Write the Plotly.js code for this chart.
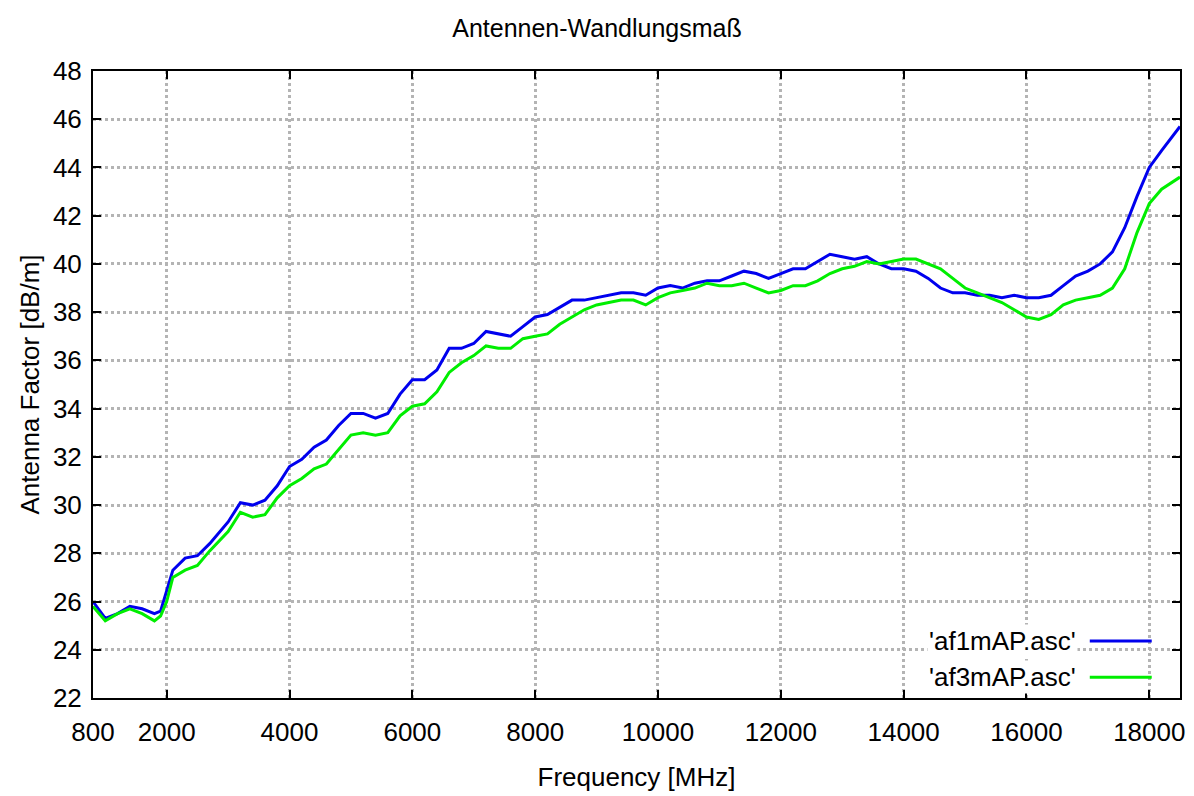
<!DOCTYPE html>
<html>
<head>
<meta charset="utf-8">
<script src="https://cdn.plot.ly/plotly-3.0.1.min.js"></script>
<style>body{margin:0;background:#fff}#chart{width:1194px;height:796px}</style>
</head>
<body>
<div id="chart"></div>
<script>
var freq = [800, 1000, 1200, 1400, 1600, 1800, 1900, 2000, 2100, 2300, 2500, 2700, 3000, 3200, 3400, 3600, 3800, 4000, 4200, 4400, 4600, 4800, 5000, 5200, 5400, 5600, 5800, 6000, 6200, 6400, 6600, 6800, 7000, 7200, 7400, 7600, 7800, 8000, 8200, 8400, 8600, 8800, 9000, 9200, 9400, 9600, 9800, 10000, 10200, 10400, 10600, 10800, 11000, 11200, 11400, 11600, 11800, 12000, 12200, 12400, 12600, 12800, 13000, 13200, 13400, 13600, 13800, 14000, 14200, 14400, 14600, 14800, 15000, 15200, 15400, 15600, 15800, 16000, 16200, 16400, 16600, 16800, 17000, 17200, 17400, 17600, 17800, 18000, 18200, 18500];

var af1 = [26.0, 25.3, 25.5, 25.8, 25.7, 25.5, 25.6, 26.5, 27.3, 27.8, 27.9, 28.4, 29.3, 30.1, 30.0, 30.2, 30.8, 31.6, 31.9, 32.4, 32.7, 33.3, 33.8, 33.8, 33.6, 33.8, 34.6, 35.2, 35.2, 35.6, 36.5, 36.5, 36.7, 37.2, 37.1, 37.0, 37.4, 37.8, 37.9, 38.2, 38.5, 38.5, 38.6, 38.7, 38.8, 38.8, 38.7, 39.0, 39.1, 39.0, 39.2, 39.3, 39.3, 39.5, 39.7, 39.6, 39.4, 39.6, 39.8, 39.8, 40.1, 40.4, 40.3, 40.2, 40.3, 40.0, 39.8, 39.8, 39.7, 39.4, 39.0, 38.8, 38.8, 38.7, 38.7, 38.6, 38.7, 38.6, 38.6, 38.7, 39.1, 39.5, 39.7, 40.0, 40.5, 41.5, 42.8, 44.0, 44.7, 45.7];

var af3 = [25.8, 25.2, 25.5, 25.7, 25.5, 25.2, 25.4, 26.0, 27.0, 27.3, 27.5, 28.1, 28.9, 29.7, 29.5, 29.6, 30.3, 30.8, 31.1, 31.5, 31.7, 32.3, 32.9, 33.0, 32.9, 33.0, 33.7, 34.1, 34.2, 34.7, 35.5, 35.9, 36.2, 36.6, 36.5, 36.5, 36.9, 37.0, 37.1, 37.5, 37.8, 38.1, 38.3, 38.4, 38.5, 38.5, 38.3, 38.6, 38.8, 38.9, 39.0, 39.2, 39.1, 39.1, 39.2, 39.0, 38.8, 38.9, 39.1, 39.1, 39.3, 39.6, 39.8, 39.9, 40.1, 40.0, 40.1, 40.2, 40.2, 40.0, 39.8, 39.4, 39.0, 38.8, 38.6, 38.4, 38.1, 37.8, 37.7, 37.9, 38.3, 38.5, 38.6, 38.7, 39.0, 39.8, 41.3, 42.5, 43.1, 43.6];

var xTicks = [800, 2000, 4000, 6000, 8000, 10000, 12000, 14000, 16000, 18000];
var names = ["'af1mAP.asc'", "'af3mAP.asc'"];
var colors = ['#0000ee', '#00ee00'];

var data = [
  {x: freq, y: af1, type: 'scatter', mode: 'lines', name: names[0], line: {color: colors[0], width: 3}},
  {x: freq, y: af3, type: 'scatter', mode: 'lines', name: names[1], line: {color: colors[1], width: 3}}
];

var font = {family: 'Liberation Sans, Arial, sans-serif', size: 26, color: '#000'};
var axisCommon = {
  showline: true, mirror: 'ticks', linecolor: '#000', linewidth: 2,
  ticks: 'inside', ticklen: 8, tickcolor: '#000', tickwidth: 1.5,
  showgrid: true, gridcolor: '#b4b4b4', griddash: 'dot', gridwidth: 2.5,
  zeroline: false, tickfont: font
};

var layout = {
  width: 1194, height: 796,
  margin: {l: 93, r: 14, t: 71, b: 98},
  paper_bgcolor: '#fff', plot_bgcolor: '#fff',
  showlegend: false,
  title: {text: 'Antennen-Wandlungsmaß', font: {family: font.family, size: 25, color: '#000'}, x: 0.5, xanchor: 'center', y: 0.975, yanchor: 'top'},
  xaxis: Object.assign({}, axisCommon, {
    range: [800, 18500], tickvals: xTicks, ticktext: xTicks.map(String),
    ticklabelstandoff: 10,
    title: {text: 'Frequency [MHz]', font: font, standoff: 22}
  }),
  yaxis: Object.assign({}, axisCommon, {
    range: [22, 48], dtick: 2, ticklabelstandoff: 4,
    title: {text: 'Antenna Factor [dB/m]', font: font, standoff: 6}
  }),
  annotations: [
    {xref: 'paper', yref: 'paper', x: 0.906, y: 0.091, xanchor: 'right', yanchor: 'middle', text: names[0], showarrow: false, font: font, bgcolor: '#fff'},
    {xref: 'paper', yref: 'paper', x: 0.906, y: 0.033, xanchor: 'right', yanchor: 'middle', text: names[1], showarrow: false, font: font, bgcolor: '#fff'}
  ],
  shapes: [
    {type: 'line', xref: 'paper', yref: 'paper', x0: 0.917, x1: 0.974, y0: 0.091, y1: 0.091, line: {color: colors[0], width: 3}},
    {type: 'line', xref: 'paper', yref: 'paper', x0: 0.917, x1: 0.974, y0: 0.033, y1: 0.033, line: {color: colors[1], width: 3}}
  ]
};

Plotly.newPlot('chart', data, layout, {displayModeBar: false});
</script>
</body>
</html>
